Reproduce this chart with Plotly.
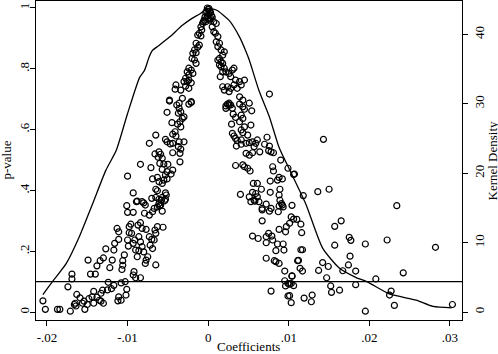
import plotly.graph_objects as go

# ---- scatter: coefficient vs p-value ----
pts = [
 # right tail
 (0.0143,0.568),(0.0106,0.453),(0.0136,0.396),(0.0150,0.404),(0.0118,0.383),(0.0104,0.351),(0.0234,0.350),
 (0.0103,0.313),(0.0106,0.306),(0.0110,0.305),(0.0101,0.292),(0.0115,0.289),(0.0157,0.282),(0.0165,0.300),
 (0.0116,0.261),(0.0175,0.246),(0.0177,0.236),(0.0222,0.237),(0.0195,0.224),(0.0157,0.220),(0.0282,0.213),
 (0.0115,0.205),(0.0117,0.205),(0.0176,0.184),(0.0112,0.170),(0.0142,0.163),(0.0149,0.150),(0.0174,0.155),
 (0.0114,0.144),(0.0117,0.135),(0.0137,0.137),(0.0167,0.136),(0.0183,0.135),(0.0242,0.129),(0.0104,0.119),
 (0.0147,0.113),(0.0208,0.109),(0.0103,0.094),(0.0106,0.087),(0.0183,0.090),(0.0152,0.086),(0.0153,0.065),
 (0.0163,0.072),(0.0227,0.069),(0.0225,0.056),(0.0101,0.054),(0.0119,0.046),(0.0129,0.056),(0.0128,0.034),
 (0.0103,0.031),(0.0231,0.022),(0.0303,0.025),(0.0195,0.003),
 # right branch lower
 (-0.0056,0.279),(0.0053,0.363),(0.0058,0.365),(0.0072,0.355),(0.0067,0.336),(0.0076,0.332),(0.0091,0.357),
 (0.0093,0.346),(0.0087,0.330),(0.0097,0.281),(0.0096,0.264),(0.0067,0.300),(0.0088,0.272),(0.0055,0.250),
 (0.0062,0.242),(0.0075,0.259),(0.0072,0.248),(0.0079,0.250),(0.0080,0.237),(0.0072,0.228),(0.0086,0.224),
 (0.0093,0.224),(0.0084,0.202),(0.0094,0.204),(0.0072,0.177),(0.0082,0.169),(0.0084,0.166),(0.0088,0.160),
 (0.0111,0.169),(0.0095,0.135),(0.0104,0.118),(0.0095,0.103),(0.0099,0.094),(0.0096,0.086),(0.0101,0.092),
 (0.0078,0.069),(0.0099,0.053),
 (-0.0058,0.368),(-0.0054,0.366),(-0.0060,0.349),(-0.0057,0.332),
 # left branch lower
 (-0.0205,0.037),(-0.0202,0.009),(-0.0187,0.009),(-0.0184,0.009),(-0.0169,0.125),(-0.0169,0.109),(-0.0174,0.083),
 (-0.0171,0.003),(-0.0166,0.025),(-0.0164,0.020),(-0.0163,0.058),(-0.0159,0.047),(-0.0156,0.029),(-0.0154,0.036),
 (-0.0153,0.009),(-0.0149,0.171),(-0.0146,0.125),(-0.0140,0.125),(-0.0148,0.044),(-0.0144,0.050),(-0.0142,0.068),
 (-0.0150,0.025),(-0.0142,0.029),(-0.0138,0.049),(-0.0133,0.062),(-0.0131,0.072),(-0.0135,0.039),(-0.0130,0.029),
 (-0.0133,0.036),(-0.0134,0.169),(-0.0130,0.178),(-0.0127,0.208),(-0.0138,0.152),(-0.0122,0.146),(-0.0124,0.098),
 (-0.0125,0.073),(-0.0120,0.077),(-0.0117,0.088),(-0.0119,0.171),(-0.0117,0.204),(-0.0116,0.226),(-0.0111,0.239),
 (-0.0111,0.264),(-0.0113,0.275),(-0.0111,0.050),(-0.0108,0.039),(-0.0112,0.037),(-0.0107,0.140),(-0.0106,0.154),
 (-0.0106,0.169),(-0.0104,0.188),(-0.0103,0.100),(-0.0108,0.096),(-0.0101,0.075),(-0.0102,0.056),(-0.0100,0.237),
 (-0.0099,0.217),(-0.0098,0.261),(-0.0096,0.289),(-0.0101,0.350),(-0.0100,0.328),(-0.0093,0.328),(-0.0098,0.281),
 (-0.0095,0.259),(-0.0091,0.237),(-0.0093,0.226),(-0.0090,0.204),(-0.0088,0.182),(-0.0092,0.133),(-0.0093,0.122),
 (-0.0090,0.113),(-0.0084,0.113),(-0.0089,0.363),(-0.0080,0.359),(-0.0078,0.352),(-0.0087,0.286),(-0.0084,0.294),
 (-0.0082,0.275),(-0.0079,0.325),(-0.0073,0.319),(-0.0069,0.330),(-0.0063,0.346),(-0.0061,0.357),(-0.0077,0.272),
 (-0.0086,0.248),(-0.0084,0.231),(-0.0082,0.215),(-0.0086,0.202),(-0.0080,0.198),(-0.0077,0.171),(-0.0075,0.182),
 (-0.0078,0.160),(-0.0073,0.248),(-0.0070,0.239),(-0.0067,0.237),(-0.0072,0.220),(-0.0069,0.209),(-0.0065,0.259),
 (-0.0063,0.281),(-0.0066,0.270),(-0.0065,0.155),(-0.0165,0.029),
 # left branch middle
 (-0.0048,0.694),(-0.0021,0.689),(-0.0024,0.684),(-0.0039,0.681),(-0.0036,0.670),(-0.0034,0.659),(-0.0037,0.654),
 (-0.0032,0.637),(-0.0030,0.642),(-0.0035,0.626),(-0.0038,0.618),(-0.0034,0.609),(-0.0051,0.657),(-0.0045,0.623),
 (-0.0065,0.582),(-0.0073,0.555),(-0.0044,0.585),(-0.0040,0.579),(-0.0041,0.593),(-0.0053,0.568),(-0.0051,0.560),
 (-0.0047,0.553),(-0.0044,0.555),(-0.0036,0.560),(-0.0030,0.560),(-0.0037,0.544),(-0.0034,0.536),(-0.0035,0.522),
 (-0.0044,0.524),(-0.0066,0.520),(-0.0061,0.527),(-0.0059,0.519),(-0.0062,0.509),(-0.0057,0.506),(-0.0035,0.494),
 (-0.0060,0.489),(-0.0055,0.487),(-0.0050,0.486),(-0.0084,0.486),(-0.0071,0.475),(-0.0057,0.469),(-0.0051,0.462),
 (-0.0044,0.467),(-0.0046,0.454),(-0.0053,0.451),(-0.0100,0.447),(-0.0069,0.438),(-0.0063,0.443),(-0.0061,0.429),
 (-0.0055,0.434),(-0.0051,0.438),(-0.0057,0.423),(-0.0065,0.404),(-0.0063,0.399),(-0.0093,0.392),(-0.0053,0.392),
 (-0.0052,0.385),(-0.0070,0.374),(-0.0065,0.377),(-0.0061,0.371),(-0.0057,0.377),(-0.0053,0.371),(-0.0088,0.365),
 (-0.0082,0.363),(-0.0059,0.352),(-0.0067,0.341),
 # right branch middle
 (0.0024,0.684),(0.0028,0.681),(0.0026,0.687),(0.0022,0.670),(0.0030,0.670),(0.0039,0.684),(0.0043,0.675),
 (0.0045,0.667),(0.0051,0.687),(0.0054,0.662),(0.0031,0.651),(0.0034,0.640),(0.0041,0.648),(0.0043,0.637),
 (0.0039,0.626),(0.0029,0.618),(0.0053,0.615),(0.0045,0.609),(0.0041,0.599),(0.0043,0.590),(0.0049,0.582),
 (0.0030,0.588),(0.0032,0.579),(0.0034,0.571),(0.0036,0.564),(0.0041,0.566),(0.0035,0.546),(0.0041,0.552),
 (0.0047,0.555),(0.0051,0.557),(0.0055,0.560),(0.0061,0.566),(0.0059,0.555),(0.0057,0.544),(0.0047,0.522),
 (0.0051,0.516),(0.0055,0.524),(0.0064,0.527),(0.0073,0.575),(0.0070,0.552),(0.0076,0.546),(0.0075,0.531),
 (0.0078,0.527),(0.0081,0.524),(0.0090,0.500),(0.0034,0.482),(0.0043,0.484),(0.0045,0.478),(0.0049,0.473),
 (0.0052,0.464),(0.0080,0.478),(0.0081,0.464),(0.0099,0.473),(0.0107,0.454),(0.0088,0.443),(0.0086,0.434),
 (0.0092,0.438),(0.0077,0.431),(0.0089,0.404),(0.0056,0.423),(0.0061,0.423),(0.0066,0.404),(0.0077,0.394),
 (0.0040,0.387),(0.0055,0.394),(0.0059,0.390),(0.0051,0.379),(0.0061,0.379),(0.0057,0.368),(0.0063,0.363),
 (0.0067,0.341),(0.0078,0.341),(0.0088,0.349),(0.0092,0.352),(0.0088,0.385),(0.0089,0.368),(0.0076,0.717),
 # upper left branch
 (-0.0007,0.949),(-0.0009,0.938),(-0.0008,0.928),(-0.0011,0.917),(-0.0009,0.908),(-0.0013,0.911),(-0.0015,0.884),
 (-0.0011,0.878),(-0.0013,0.871),(-0.0017,0.862),(-0.0019,0.851),(-0.0015,0.853),(-0.0020,0.834),(-0.0017,0.829),
 (-0.0015,0.818),(-0.0024,0.802),(-0.0026,0.790),(-0.0021,0.796),(-0.0019,0.785),(-0.0024,0.780),(-0.0028,0.769),
 (-0.0024,0.763),(-0.0021,0.754),(-0.0026,0.758),(-0.0030,0.758),(-0.0028,0.743),(-0.0024,0.736),(-0.0040,0.747),
 (-0.0041,0.733),(-0.0034,0.730),(-0.0048,0.697),(-0.0032,0.703),(-0.0036,0.687),(-0.0021,0.692),
 # upper right branch
 (0.0003,0.966),(0.0007,0.955),(0.0010,0.949),(0.0005,0.938),(0.0007,0.922),(0.0009,0.917),(0.0012,0.906),
 (0.0010,0.889),(0.0014,0.884),(0.0012,0.873),(0.0016,0.862),(0.0020,0.856),(0.0018,0.845),(0.0014,0.834),
 (0.0012,0.829),(0.0016,0.823),(0.0018,0.818),(0.0014,0.813),(0.0016,0.807),(0.0020,0.802),(0.0018,0.790),
 (0.0015,0.774),(0.0022,0.790),(0.0026,0.785),(0.0030,0.796),(0.0032,0.802),(0.0028,0.774),(0.0034,0.763),
 (0.0039,0.758),(0.0032,0.747),(0.0028,0.736),(0.0024,0.741),(0.0018,0.741),(0.0020,0.730),(0.0026,0.725),
 (0.0036,0.736),(0.0041,0.747),(0.0045,0.763),(0.0039,0.708),(0.0043,0.697),(0.0026,0.681),(0.0022,0.678),
 # peak cluster
 (0.0000,0.995),(-0.0002,0.990),(0.0002,0.990),(-0.0003,0.985),(0.0003,0.985),(0.0001,0.980),(-0.0001,0.975),
 (-0.0004,0.970),(0.0004,0.975),(0.0000,0.965),(-0.0005,0.960),(0.0002,0.960),(-0.0003,0.955),(0.0005,0.970),
 (-0.0006,0.955),(-0.0001,1.000),(0.0001,0.998),
]
coef = [p[0] for p in pts]
pval = [p[1] for p in pts]

# ---- kernel density of coefficients ----
kd_x = [-0.0205,-0.0193,-0.0176,-0.016,-0.0143,-0.0127,-0.0114,-0.010,-0.0085,-0.0079,-0.0073,-0.0069,-0.0061,
        -0.0048,-0.0032,-0.002,-0.0011,-0.0001,0.001,0.0026,0.0039,0.0047,0.0051,0.0063,0.0076,0.0088,0.0101,
        0.0121,0.0142,0.0163,0.0183,0.0198,0.0225,0.0258,0.0279,0.0302]
kd_y = [2.5,4.4,7.0,10.8,15.7,20.4,23.3,28.6,33.8,34.8,36.8,37.7,38.4,39.6,41.3,42.3,42.9,43.7,43.5,42.0,39.6,
        37.5,36.3,31.9,28.1,23.7,20.5,15.6,9.2,6.3,5.0,4.3,2.6,1.7,0.8,0.6]

threshold = 0.1

x_ticks = [-0.02, -0.01, 0, 0.01, 0.02, 0.03]
x_tick_text = ["-.02", "-.01", "0", ".01", ".02", ".03"]
y_ticks = [0, 0.2, 0.4, 0.6, 0.8, 1]
y_tick_text = ["0", ".2", ".4", ".6", ".8", "1"]
y2_ticks = [0, 10, 20, 30, 40]

FONT = dict(family="Liberation Serif, Times New Roman, serif", size=13, color="black")

fig = go.Figure()
fig.add_trace(go.Scatter(x=coef, y=pval, mode="markers",
                         marker=dict(symbol="circle-open", size=6, color="black", line=dict(width=1.2, color="black")),
                         showlegend=False, hoverinfo="skip"))
fig.add_trace(go.Scatter(x=kd_x, y=kd_y, mode="lines", yaxis="y2",
                         line=dict(color="black", width=1.3, shape="spline", smoothing=0.6),
                         showlegend=False, hoverinfo="skip"))
fig.add_shape(type="line", xref="paper", x0=0, x1=1, yref="y", y0=threshold, y1=threshold,
              line=dict(color="black", width=1.3))

axis_common = dict(showgrid=False, zeroline=False, showline=True, linecolor="black", linewidth=1.2,
                   ticks="outside", ticklen=5, tickcolor="black", tickwidth=1, tickfont=FONT)

fig.update_layout(
    width=498, height=354,
    margin=dict(l=36, r=36, t=1, b=34),
    paper_bgcolor="white", plot_bgcolor="white",
    font=FONT,
    xaxis=dict(**axis_common, range=[-0.02136, 0.03149], tickvals=x_ticks, ticktext=x_tick_text,
               mirror=True),
    yaxis=dict(**axis_common, range=[-0.026, 1.023], tickvals=y_ticks, ticktext=y_tick_text,
               tickangle=-90, ticklabelstandoff=-4),
    yaxis2=dict(**axis_common, range=[-1.15, 44.8], tickvals=y2_ticks, overlaying="y", side="right",
                tickangle=-90),
    annotations=[
        dict(text="Coefficients", xref="paper", yref="paper", x=(248 - 36) / 426, y=(320 - 346) / 319,
             xanchor="center", yanchor="middle", showarrow=False, font=FONT),
        dict(text="p-value", xref="paper", yref="paper", x=(6 - 36) / 426, y=0.5,
             xanchor="center", yanchor="middle", textangle=-90, showarrow=False, font=FONT),
        dict(text="Kernel Density", xref="paper", yref="paper", x=(492 - 36) / 426, y=0.5,
             xanchor="center", yanchor="middle", textangle=-90, showarrow=False, font=FONT),
    ],
)

fig.write_html("out.html", config={"displayModeBar": False},
               post_script="document.body.style.margin='0';document.body.style.padding='0';")
